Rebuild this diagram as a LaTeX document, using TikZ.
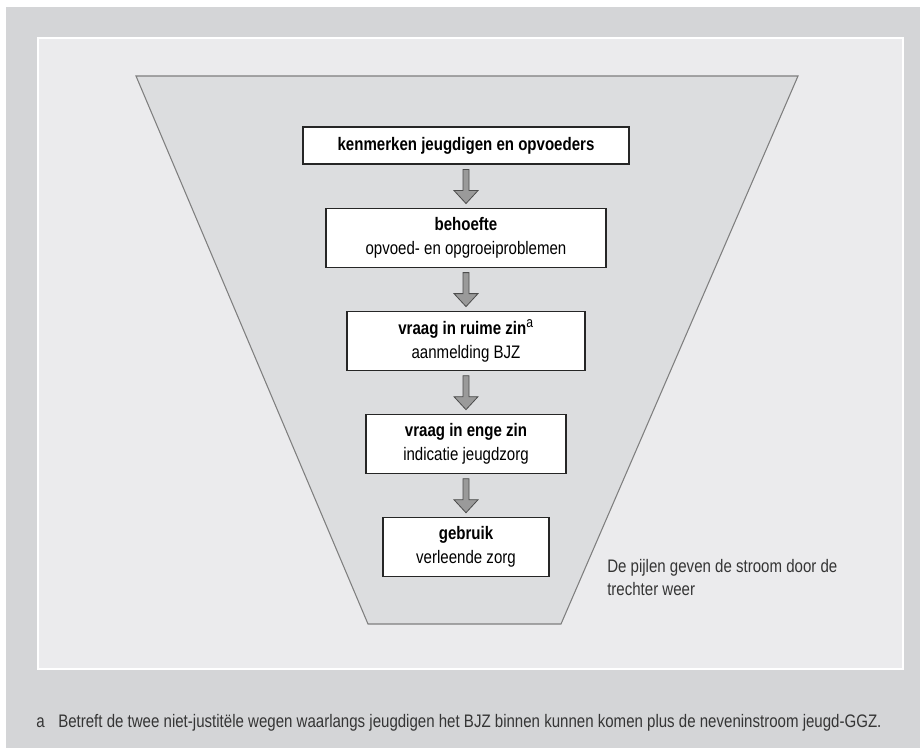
\documentclass[tikz,border=0pt]{standalone}
\usepackage{fontspec}
\setmainfont{Liberation Sans}[FakeStretch=0.83]
\usetikzlibrary{positioning,calc}
\definecolor{outergray}{HTML}{D4D5D7}
\definecolor{panelgray}{HTML}{EBEBED}
\definecolor{funnelgray}{HTML}{DCDDDF}
\definecolor{arrowgray}{HTML}{9A9A9A}
\definecolor{edgegray}{HTML}{7F7F7F}
\definecolor{notegray}{HTML}{353535}

\begin{document}
\begin{tikzpicture}[x=0.75pt,y=-0.75pt]
	\tikzstyle{stage}=[rectangle, draw=black!85, fill=white, line width=0.8pt, align=center, inner sep=0pt,
		minimum height=44.25pt, font=\fontsize{13.6}{18}\selectfont, node distance=32.25pt]
	\tikzstyle{flow}=[draw=black!70, fill=arrowgray, line width=0.6pt, line join=miter]
	\tikzstyle{funnel}=[draw=edgegray, fill=funnelgray, line width=0.8pt]
	\tikzstyle{note}=[inner sep=0pt, text=notegray, font=\fontsize{13.6}{17.25}\selectfont]
	\useasboundingbox (0,0) rectangle (920,749);
	\fill[outergray] (6,7) rectangle (920,748);
	\draw[white, fill=panelgray, line width=1.5pt] (38,38) rectangle (903,669);
	\draw[funnel] (136,76) -- (798,76) -- (561,624) -- (368,624) -- cycle;

	  \node[stage, minimum width=244.5pt, minimum height=27.75pt] (kenmerken) at (466,145.5)
		{\textbf{kenmerken jeugdigen en opvoeders}};
	  \node[stage, minimum width=210pt] (behoefte) [below=of kenmerken]
		{\textbf{behoefte}\\opvoed- en opgroeiproblemen};
	  \node[stage, minimum width=178.5pt] (ruim) [below=of behoefte]
		{\textbf{vraag in ruime zin}\textsuperscript{\mdseries\fontsize{11}{11}\selectfont a}\\aanmelding BJZ};
	  \node[stage, minimum width=150pt] (eng) [below=of ruim]
		{\textbf{vraag in enge zin}\\indicatie jeugdzorg};
	  \node[stage, minimum width=124.5pt] (gebruik) [below=of eng]
		{\textbf{gebruik}\\verleende zorg};

	  \foreach \from/\to in {kenmerken/behoefte, behoefte/ruim, ruim/eng, eng/gebruik}
		\draw[flow] ($(\from.south)+(-3,5)$) -- ($(\to.north)+(-3,-17)$) -- ($(\to.north)+(-12,-17)$)
			-- ($(\to.north)+(0,-4)$) -- ($(\to.north)+(12,-17)$) -- ($(\to.north)+(3,-17)$)
			-- ($(\from.south)+(3,5)$) -- cycle;

	  \node[note, anchor=base west, align=left] (pijlen) at (607,595)
		{De pijlen geven de stroom door de\\trechter weer};
	  \node[note, anchor=base west] (mark) at (36,727) {a};
	  \node[note, anchor=base west] (voetnoot) at (58,727)
		{Betreft de twee niet-justitële wegen waarlangs jeugdigen het BJZ binnen kunnen komen plus de neveninstroom jeugd-GGZ.};

\end{tikzpicture}
\end{document}
